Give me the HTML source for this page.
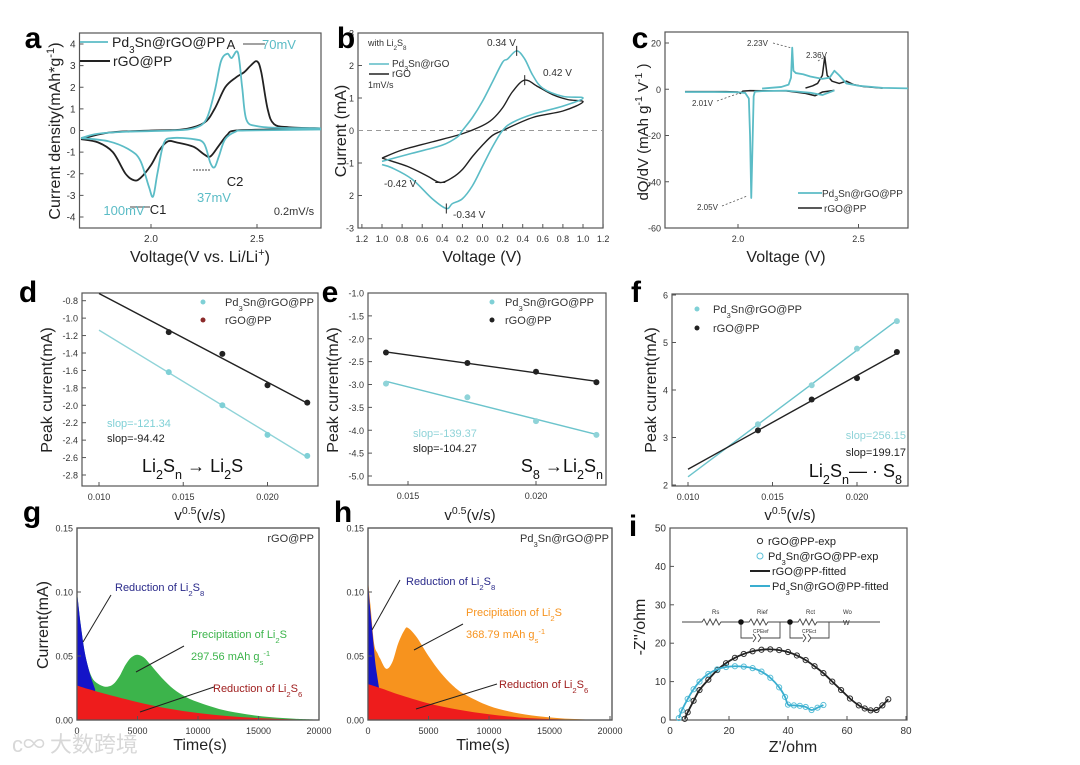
<!DOCTYPE html>
<html><head><meta charset="utf-8">
<style>
html,body{margin:0;padding:0;background:#fff;}
svg{display:block;font-family:"Liberation Sans","Noto Sans CJK SC",sans-serif;}
</style></head>
<body>
<svg id="fig" width="1080" height="765" viewBox="0 0 1080 765" xmlns="http://www.w3.org/2000/svg">
<rect x="0" y="0" width="1080" height="765" fill="#fff"/>
</svg>
<script>
// ---------- DATA ----------
// panel a
const aPdV=[1.67,1.75,1.9,2.1,2.2,2.26,2.3,2.33,2.36,2.38,2.41,2.43,2.45,2.5,2.6,2.8,2.8,2.45,2.4,2.35,2.32,2.30,2.28,2.25,2.2,2.1,2.06,2.03,2.01,1.99,1.95,1.9,1.8,1.67];
const aPdI=[-0.35,-0.15,-0.05,0,0.1,0.5,1.8,3.2,3.55,3.35,3.6,2.0,0.5,0.2,0.12,0.1,0.05,0,-0.05,-0.4,-1.2,-1.7,-1.5,-0.6,-0.4,-0.35,-0.6,-2.0,-3.05,-2.6,-1.4,-0.9,-0.5,-0.35];
const aRgV=[1.67,1.8,2.0,2.15,2.25,2.3,2.35,2.4,2.44,2.47,2.5,2.52,2.55,2.58,2.65,2.8,2.8,2.6,2.4,2.36,2.32,2.28,2.25,2.2,2.12,2.08,2.04,2.0,1.95,1.92,1.88,1.82,1.75,1.67];
const aRgI=[-0.4,-0.1,0,0.05,0.35,1.0,2.0,2.45,2.7,3.0,3.2,2.7,1.0,0.3,0.15,0.1,0.1,0.05,0,-0.2,-0.7,-1.2,-1.1,-0.75,-0.55,-0.5,-0.9,-1.6,-2.2,-2.3,-2.0,-1.0,-0.55,-0.4];
const aYTicks=[-4,-3,-2,-1,0,1,2,3,4];
const aXTicks=[2.0,2.5];
// panel b
const bPdV=[-1,-0.7,-0.4,-0.25,-0.2,-0.1,0,0.1,0.2,0.25,0.34,0.42,0.5,0.6,0.8,1.0,0.8,0.5,0.3,0.2,0.1,0,-0.1,-0.2,-0.3,-0.36,-0.5,-0.7,-0.9,-1.0];
const bPdI=[-0.95,-0.7,-0.45,-0.2,0,0.4,0.9,1.5,2.1,2.2,2.45,2.2,1.7,1.3,1.05,1.0,0.75,0.5,0.25,0,-0.5,-1.1,-1.7,-2.1,-2.25,-2.4,-2.1,-1.5,-1.15,-1.05];
const bRgV=[-1,-0.8,-0.5,-0.2,0,0.1,0.2,0.3,0.42,0.55,0.7,0.85,1.0,0.8,0.5,0.2,0.1,0,-0.1,-0.2,-0.3,-0.42,-0.55,-0.75,-1.0];
const bRgI=[-0.85,-0.6,-0.35,-0.1,0.15,0.35,0.7,1.2,1.55,1.35,1.1,0.95,0.88,0.6,0.4,0,-0.15,-0.45,-0.8,-1.2,-1.45,-1.6,-1.4,-1.1,-0.85];
const bYTicks=[-3,-2,-1,0,1,2,3];
const bYLabels=['-3','2','-1','0','1','2','3'];
const bXTicks=[-1.2,-1.0,-0.8,-0.6,-0.4,-0.2,0,0.2,0.4,0.6,0.8,1.0,1.2];
const bXLabels=['1.2','1.0','0.8','0.6','0.4','0.2','0.0','0.2','0.4','0.6','0.8','1.0','1.2'];
// panel c
const cPdDisV=[1.78,1.9,2.0,2.03,2.045,2.05,2.055,2.06,2.065,2.07,2.1,2.2,2.3,2.35,2.4];
const cPdDisI=[-1.2,-1.2,-1.3,-1.6,-4,-20,-47,-25,-3,-1,-0.8,-0.6,-1.5,-2.5,-0.5];
const cPdChV=[2.1,2.18,2.21,2.22,2.225,2.23,2.24,2.27,2.3,2.35,2.38,2.4,2.42,2.45,2.5,2.6,2.75];
const cPdChI=[0.3,1,2,5,18,8,7,6.5,5.5,4.5,5,8,6,2.5,1.5,0.6,0.3];
const cRgDisV=[1.78,1.95,2.0,2.01,2.02,2.05,2.2,2.28,2.32,2.35,2.4];
const cRgDisI=[-1,-1,-1.2,-1.8,-0.8,-0.6,-0.7,-1.8,-2.8,-1.2,-0.5];
const cRgChV=[2.28,2.31,2.33,2.35,2.36,2.37,2.39,2.42,2.45,2.48,2.52,2.6];
const cRgChI=[0.5,1.5,2.5,6,14,6,3.5,2.5,3.5,2,1.2,0.5];
const cYTicks=[-60,-40,-20,0,20];
const cXTicks=[2.0,2.5];
// panels d,e,f
const sqrtV=[0.01414,0.01732,0.02,0.02236];
const dPd=[-1.62,-2.0,-2.34,-2.58];
const dRg=[-1.16,-1.41,-1.77,-1.97];
const dYTicks=[-2.8,-2.6,-2.4,-2.2,-2.0,-1.8,-1.6,-1.4,-1.2,-1.0,-0.8];
const dXTicks=[0.010,0.015,0.020];
const ePd=[-2.98,-3.28,-3.8,-4.1];
const eRg=[-2.3,-2.53,-2.72,-2.95];
const eYTicks=[-5.0,-4.5,-4.0,-3.5,-3.0,-2.5,-2.0,-1.5,-1.0];
const eXTicks=[0.015,0.020];
const fPd=[3.28,4.1,4.87,5.45];
const fRg=[3.15,3.8,4.25,4.8];
const fYTicks=[2,3,4,5,6];
const fXTicks=[0.010,0.015,0.020];
// panel g
const gTotT=[0,300,600,900,1200,1500,2000,2500,3000,3500,4000,4500,5000,5500,6000,7000,8000,9000,10000,12000,14000,16000,18000,20000];
const gTotI=[0.1,0.075,0.055,0.042,0.034,0.03,0.027,0.026,0.028,0.034,0.043,0.049,0.051,0.049,0.044,0.033,0.024,0.018,0.014,0.008,0.0045,0.0022,0.001,0.0003];
const gBlueT=[0,300,600,900,1200,1500];
const gBlueI=[0.1,0.075,0.055,0.042,0.032,0.024];
const gRedT=[0,1000,2500,5000,7500,10000,12500,15000,17500,20000];
const gRedI=[0.027,0.024,0.020,0.014,0.009,0.0055,0.003,0.0015,0.0006,0];
// panel h
const hTotT=[0,200,500,800,1000,1500,2000,2500,3000,3300,4000,5000,6000,7000,8000,10000,12000,14000,16000,18000,19000];
const hTotI=[0.11,0.09,0.06,0.052,0.048,0.04,0.045,0.06,0.07,0.072,0.065,0.05,0.037,0.027,0.02,0.011,0.006,0.003,0.0013,0.0004,0];
const hBlueT=[0,150,300,450,600,750,900];
const hBlueI=[0.11,0.09,0.075,0.06,0.045,0.035,0.026];
const hRedT=[0,1000,2500,5000,7500,10000,12500,15000,17500,19000];
const hRedI=[0.028,0.025,0.02,0.013,0.008,0.0045,0.002,0.0008,0.0002,0];
const ghYTicks=[0,0.05,0.10,0.15];
const ghYLabels=['0.00','0.05','0.10','0.15'];
const ghXTicks=[0,5000,10000,15000,20000];
// panel i
const iRgX=[5,6,8,10,13,16,19,22,25,28,31,34,37,40,43,46,49,52,55,58,61,64,66,68,70,72,74];
const iRgY=[0.3,2,5,7.8,10.5,13,14.8,16.2,17.2,17.9,18.3,18.4,18.2,17.7,16.8,15.6,14,12.2,10,7.8,5.6,3.8,3,2.5,2.6,3.8,5.4];
const iPdX=[3,4,6,8,10,13,16,19,22,25,28,31,34,37,39,40,42,44,46,48,50,52];
const iPdY=[0.5,2.5,5.5,8,10,12,13.2,13.8,14,13.9,13.5,12.6,11,8.5,6,4,3.8,3.7,3.4,2.6,3.2,3.9];
const iYTicks=[0,10,20,30,40,50];
const iXTicks=[0,20,40,60,80];

// ---------- HELPERS ----------
const NS='http://www.w3.org/2000/svg';
const svg=document.getElementById('fig');
const CY='#5bbcc6', BK='#222';
function mk(tag,name,parent){
  const e=document.createElementNS(NS,tag);
  
  
  (parent||svg).appendChild(e);
  return e;
}
function set(e,o){for(const k in o)e.setAttribute(k,o[k]);return e;}
function lin(d0,d1,r0,r1){return v=>r0+(v-d0)*(r1-r0)/(d1-d0);}
function rich(t,str){
  const re=/([_^])\{([^}]*)\}/g;let last=0,m;
  while((m=re.exec(str))){
    if(m.index>last){const s=document.createElementNS(NS,'tspan');s.textContent=str.slice(last,m.index);t.appendChild(s);}
    const s=document.createElementNS(NS,'tspan');s.textContent=m[2];
    s.setAttribute('font-size','70%');s.setAttribute('baseline-shift',m[1]=='_'?'sub':'super');t.appendChild(s);
    last=re.lastIndex;
  }
  if(last<str.length){const s=document.createElementNS(NS,'tspan');s.textContent=str.slice(last);t.appendChild(s);}
}
function txt(x,y,str,name,o){
  const t=mk('text',name);
  set(t,Object.assign({x:x,y:y,'font-size':10,fill:'#333'},o||{}));
  rich(t,str);return t;
}
function smooth(pts){
  let d='M'+pts[0][0]+','+pts[0][1];
  for(let i=0;i<pts.length-1;i++){
    const p0=pts[Math.max(i-1,0)],p1=pts[i],p2=pts[i+1],p3=pts[Math.min(i+2,pts.length-1)];
    const c1=[p1[0]+(p2[0]-p0[0])/6,p1[1]+(p2[1]-p0[1])/6],c2=[p2[0]-(p3[0]-p1[0])/6,p2[1]-(p3[1]-p1[1])/6];
    d+=' C'+c1.join(',')+' '+c2.join(',')+' '+p2.join(',');
  }
  return d;
}
function series(xs,ys,sx,sy,name,color,w,clip,sm){
  const pts=xs.map((v,i)=>[sx(v),sy(ys[i])]);
  const p=mk('path',name);
  set(p,{d:sm===false?'M'+pts.map(q=>q.join(',')).join(' L'):smooth(pts),fill:'none',stroke:color,'stroke-width':w||1.6,'stroke-linejoin':'round'});
  if(clip)p.setAttribute('clip-path','url(#'+clip+')');
  return p;
}
function area(xs,ys,sx,sy,y0,name,color,clip){
  const pts=xs.map((v,i)=>[sx(v),sy(ys[i])]);
  let d=smooth(pts)+' L'+sx(xs[xs.length-1])+','+y0+' L'+sx(xs[0])+','+y0+' Z';
  const p=mk('path',name);
  set(p,{d:d,fill:color,stroke:'none'});
  if(clip)p.setAttribute('clip-path','url(#'+clip+')');
  return p;
}
const defs=mk('defs','defs');
function frame(id,x0,y0,x1,y1){
  const c=mk('clipPath',id+'-clip',defs);c.setAttribute('id',id);
  const r=mk('rect',id+'-clip-rect',c);set(r,{x:x0,y:y0,width:x1-x0,height:y1-y0});
  const f=mk('rect',id+'-frame');
  set(f,{x:x0,y:y0,width:x1-x0,height:y1-y0,fill:'none',stroke:'#555','stroke-width':1.2});
}
function yAxis(ticks,labels,sy,x0,name,fs){
  ticks.forEach((v,i)=>{
    const l=mk('line',name+'-tick');set(l,{x1:x0,x2:x0+4,y1:sy(v),y2:sy(v),stroke:'#555'});
    txt(x0-4,sy(v)+3.5,labels?labels[i]:String(v),name+'-label',{'text-anchor':'end','font-size':fs||10});
  });
}
function xAxis(ticks,labels,sx,y0,name,fs){
  ticks.forEach((v,i)=>{
    const l=mk('line',name+'-tick');set(l,{x1:sx(v),x2:sx(v),y1:y0,y2:y0-4,stroke:'#555'});
    txt(sx(v),y0+14,labels?labels[i]:String(v),name+'-label',{'text-anchor':'middle','font-size':fs||10});
  });
}
function letter(x,y,s){txt(x,y,s,'panel-label-'+s,{'font-size':30,'font-weight':'bold',fill:'#000','text-anchor':'middle'});}
function ytitle(x,y,s,name,fs){txt(0,0,s,name,{'font-size':fs||16,fill:'#222','text-anchor':'middle',transform:'translate('+x+','+y+') rotate(-90)'});}
function xtitle(x,y,s,name,fs){txt(x,y,s,name,{'font-size':fs||16,fill:'#222','text-anchor':'middle'});}
function seg(x1,y1,x2,y2,name,color,w,dash){
  const l=mk('line',name);set(l,{x1:x1,y1:y1,x2:x2,y2:y2,stroke:color||'#222','stroke-width':w||1});
  if(dash)l.setAttribute('stroke-dasharray',dash);return l;
}
function dot(x,y,r,name,fill,stroke){const c=mk('circle',name);set(c,{cx:x,cy:y,r:r,fill:fill,stroke:stroke||'none'});return c;}
function fitLine(xs,ys,xa,xb,sx,sy,name,color){
  const n=xs.length,mx=xs.reduce((a,b)=>a+b)/n,my=ys.reduce((a,b)=>a+b)/n;
  let num=0,den=0;xs.forEach((x,i)=>{num+=(x-mx)*(ys[i]-my);den+=(x-mx)*(x-mx);});
  const k=num/den,b=my-k*mx;
  seg(sx(xa),sy(k*xa+b),sx(xb),sy(k*xb+b),name,color,1.4);
}

// ---------- PANEL A ----------
(function(){
  const sx=lin(2.0,2.5,151,257), sy=lin(4,-4,44,217);
  frame('ca',79.5,33,321,228);
  yAxis(aYTicks,null,sy,79.5,'a-y');
  xAxis(aXTicks,['2.0','2.5'],sx,228,'a-x');
  series(aRgV,aRgI,sx,sy,'a-rgo-pp-curve',BK,1.8,'ca');
  series(aPdV,aPdI,sx,sy,'a-pd3sn-curve',CY,1.8,'ca');
  letter(33,48,'a');
  seg(80,42,108,42,'a-legend-pd-line',CY,1.8);
  txt(112,47,'Pd_{3}Sn@rGO@PP','a-legend-pd',{'font-size':14,fill:'#222'});
  seg(80,61,110,61,'a-legend-rgo-line',BK,2);
  txt(113,66,'rGO@PP','a-legend-rgo',{'font-size':14,fill:'#222'});
  txt(231,49,'A','a-peak-A',{'font-size':13,fill:'#222','text-anchor':'middle'});
  seg(243,44,265,44,'a-70mv-bar','#444',1);
  txt(262,49,'70mV','a-70mv',{'font-size':13,fill:CY});
  seg(193,170,211,170,'a-37mv-bar','#444',1,'2,1');
  txt(235,186,'C2','a-peak-C2',{'font-size':13,fill:'#222','text-anchor':'middle'});
  txt(214,202,'37mV','a-37mv',{'font-size':13,fill:CY,'text-anchor':'middle'});
  seg(130,207,150,207,'a-100mv-bar','#444',1);
  txt(158,214,'C1','a-peak-C1',{'font-size':13,fill:'#222','text-anchor':'middle'});
  txt(124,215,'100mV','a-100mv',{'font-size':13,fill:CY,'text-anchor':'middle'});
  txt(294,215,'0.2mV/s','a-scan-rate',{'font-size':11,fill:'#333','text-anchor':'middle'});
  ytitle(60,131,'Current density(mAh*g^{-1})','a-y-title',16);
  xtitle(200,262,'Voltage(V vs. Li/Li^{+})','a-x-title',16);
})();

// ---------- PANEL B ----------
(function(){
  const sx=lin(-1,1,382,583), sy=lin(3,-3,33,228);
  frame('cb',358,33,603,228);
  yAxis(bYTicks,bYLabels,sy,358,'b-y',9);
  xAxis(bXTicks,bXLabels,sx,228,'b-x',9);
  seg(358,sy(0),603,sy(0),'b-zero-line','#999',1,'5,4');
  series(bRgV,bRgI,sx,sy,'b-rgo-curve',BK,1.4,'cb');
  series(bPdV,bPdI,sx,sy,'b-pd3sn-curve',CY,1.6,'cb');
  seg(sx(0.34),sy(2.45)-5,sx(0.34),sy(2.45)+5,'b-peak-mark','#222',1);
  seg(sx(0.42),sy(1.55)-5,sx(0.42),sy(1.55)+5,'b-peak-mark','#222',1);
  seg(sx(-0.42)-5,sy(-1.6),sx(-0.42)+5,sy(-1.6),'b-peak-mark','#222',1);
  seg(sx(-0.36),sy(-2.4)-5,sx(-0.36),sy(-2.4)+5,'b-peak-mark','#222',1);
  letter(346,48,'b');
  txt(368,46,'with Li_{2}S_{8}','b-note',{'font-size':9});
  seg(369,64,389,64,'b-legend-pd-line',CY,1.5);
  txt(392,67,'Pd_{3}Sn@rGO','b-legend-pd',{'font-size':10});
  seg(369,74,389,74,'b-legend-rgo-line',BK,1.5);
  txt(392,77,'rGO','b-legend-rgo',{'font-size':10});
  txt(368,88,'1mV/s','b-scan-rate',{'font-size':9});
  txt(487,46,'0.34 V','b-034-label',{'font-size':10});
  txt(543,76,'0.42 V','b-042-label',{'font-size':10});
  txt(384,187,'-0.42 V','b-m042-label',{'font-size':10});
  txt(453,218,'-0.34 V','b-m034-label',{'font-size':10});
  ytitle(346,131,'Current (mA)','b-y-title',16);
  xtitle(482,262,'Voltage (V)','b-x-title',16);
})();

// ---------- PANEL C ----------
(function(){
  const sx=lin(2.0,2.5,738,858.5), sy=lin(20,-60,43,228);
  frame('cc',665,32,908,228);
  yAxis(cYTicks,null,sy,665,'c-y',9);
  xAxis(cXTicks,['2.0','2.5'],sx,228,'c-x',9);
  series(cRgDisV,cRgDisI,sx,sy,'c-rgo-discharge',BK,1.5,'cc',false);
  series(cRgChV,cRgChI,sx,sy,'c-rgo-charge',BK,1.5,'cc',false);
  series(cPdDisV,cPdDisI,sx,sy,'c-pd3sn-discharge',CY,1.8,'cc',false);
  series(cPdChV,cPdChI,sx,sy,'c-pd3sn-charge',CY,1.8,'cc',false);
  seg(908,sy(0),908,sy(0),'c-dummy','#fff',0);
  letter(640,48,'c');
  txt(747,46,'2.23V','c-223-label',{'font-size':8});
  seg(773,43,sx(2.225)-2,sy(18),'c-223-arrow','#555',0.8,'2,2');
  txt(806,58,'2.36V','c-236-label',{'font-size':8});
  seg(818,61,sx(2.36),sy(14),'c-236-arrow','#555',0.8,'2,2');
  txt(692,106,'2.01V','c-201-label',{'font-size':8});
  seg(717,101,sx(2.01),sy(-1.5),'c-201-arrow','#555',0.8,'2,2');
  txt(697,210,'2.05V','c-205-label',{'font-size':8});
  seg(722,206,sx(2.05)-2,sy(-46),'c-205-arrow','#555',0.8,'2,2');
  seg(798,193,822,193,'c-legend-pd-line',CY,1.8);
  txt(822,197,'Pd_{3}Sn@rGO@PP','c-legend-pd',{'font-size':10});
  seg(798,208,822,208,'c-legend-rgo-line',BK,1.5);
  txt(824,212,'rGO@PP','c-legend-rgo',{'font-size':10});
  ytitle(648,132,'dQ/dV (mAh g^{-1} V^{-1} )','c-y-title',15);
  xtitle(786,262,'Voltage (V)','c-x-title',16);
})();

// ---------- PANEL D ----------
(function(){
  const sx=lin(0.010,0.020,99,267.5), sy=lin(-0.8,-2.8,300.7,475);
  frame('cd',82,293,318,486);
  yAxis(dYTicks,dYTicks.map(v=>v.toFixed(1)),sy,82,'d-y',9);
  xAxis(dXTicks,dXTicks.map(v=>v.toFixed(3)),sx,486,'d-x',9);
  fitLine(sqrtV,dRg,0.010,0.0224,sx,sy,'d-rgo-fit',BK);
  fitLine(sqrtV,dPd,0.010,0.0224,sx,sy,'d-pd3sn-fit','#8fd3d8');
  sqrtV.forEach((v,i)=>{dot(sx(v),sy(dRg[i]),3,'d-rgo-point','#222');});
  sqrtV.forEach((v,i)=>{dot(sx(v),sy(dPd[i]),3,'d-pd3sn-point','#7fd0d6');});
  letter(28,302,'d');
  dot(203,302,2.5,'d-legend-pd-marker','#7fd0d6');
  txt(225,306,'Pd_{3}Sn@rGO@PP','d-legend-pd',{'font-size':11});
  dot(203,320,2.5,'d-legend-rgo-marker','#8b2a2a');
  txt(225,324,'rGO@PP','d-legend-rgo',{'font-size':11});
  txt(107,427,'slop=-121.34','d-slope-pd',{'font-size':11,fill:'#7fd0d6'});
  txt(107,442,'slop=-94.42','d-slope-rgo',{'font-size':11,fill:'#222'});
  txt(142,472,'Li_{2}S_{n}   → Li_{2}S','d-reaction',{'font-size':18,fill:'#111'});
  ytitle(52,390,'Peak current(mA)','d-y-title',16);
  xtitle(200,520,'v^{0.5}(v/s)','d-x-title',15);
})();

// ---------- PANEL E ----------
(function(){
  const sx=lin(0.015,0.020,408,536), sy=lin(-1.0,-5.0,293,476);
  frame('ce',368,293,606,485);
  yAxis(eYTicks,eYTicks.map(v=>v.toFixed(1)),sy,368,'e-y',9);
  xAxis(eXTicks,eXTicks.map(v=>v.toFixed(3)),sx,485,'e-x',9);
  fitLine(sqrtV,eRg,0.01414,0.02236,sx,sy,'e-rgo-fit',BK);
  fitLine(sqrtV,ePd,0.01414,0.02236,sx,sy,'e-pd3sn-fit','#6cc4cc');
  sqrtV.forEach((v,i)=>{dot(sx(v),sy(eRg[i]),3,'e-rgo-point','#222');});
  sqrtV.forEach((v,i)=>{dot(sx(v),sy(ePd[i]),3,'e-pd3sn-point','#8fd3d8');});
  letter(330,302,'e');
  dot(492,302,2.5,'e-legend-pd-marker','#7fd0d6');
  txt(505,306,'Pd_{3}Sn@rGO@PP','e-legend-pd',{'font-size':11});
  dot(492,320,2.5,'e-legend-rgo-marker','#222');
  txt(505,324,'rGO@PP','e-legend-rgo',{'font-size':11});
  txt(413,437,'slop=-139.37','e-slope-pd',{'font-size':11,fill:'#8fd3d8'});
  txt(413,452,'slop=-104.27','e-slope-rgo',{'font-size':11,fill:'#222'});
  txt(603,472,'S_{8}    →Li_{2}S_{n}','e-reaction',{'font-size':18,fill:'#111','text-anchor':'end'});
  ytitle(338,390,'Peak current(mA)','e-y-title',16);
  xtitle(470,520,'v^{0.5}(v/s)','e-x-title',15);
})();

// ---------- PANEL F ----------
(function(){
  const sx=lin(0.010,0.020,688,857), sy=lin(6,2,295,485);
  frame('cf',672,294,908,486);
  yAxis(fYTicks,null,sy,672,'f-y',9);
  xAxis(fXTicks,fXTicks.map(v=>v.toFixed(3)),sx,486,'f-x',9);
  fitLine(sqrtV,fPd,0.010,0.0224,sx,sy,'f-pd3sn-fit','#6cc4cc');
  fitLine(sqrtV,fRg,0.010,0.0224,sx,sy,'f-rgo-fit',BK);
  sqrtV.forEach((v,i)=>{dot(sx(v),sy(fPd[i]),3,'f-pd3sn-point','#8fd3d8');});
  sqrtV.forEach((v,i)=>{dot(sx(v),sy(fRg[i]),3,'f-rgo-point','#222');});
  letter(636,302,'f');
  dot(697,309,2.5,'f-legend-pd-marker','#7fd0d6');
  txt(713,313,'Pd_{3}Sn@rGO@PP','f-legend-pd',{'font-size':11});
  dot(697,328,2.5,'f-legend-rgo-marker','#222');
  txt(713,332,'rGO@PP','f-legend-rgo',{'font-size':11});
  txt(906,439,'slop=256.15','f-slope-pd',{'font-size':11,fill:'#8fd3d8','text-anchor':'end'});
  txt(906,456,'slop=199.17','f-slope-rgo',{'font-size':11,fill:'#222','text-anchor':'end'});
  txt(902,477,'Li_{2}S_{n}—   · S_{8}','f-reaction',{'font-size':18,fill:'#111','text-anchor':'end'});
  ytitle(656,390,'Peak current(mA)','f-y-title',16);
  xtitle(790,520,'v^{0.5}(v/s)','f-x-title',15);
})();

// ---------- PANEL G ----------
(function(){
  const sx=lin(0,20000,77,319), sy=lin(0,0.15,720,528);
  frame('cg',77,528,319,720);
  area(gTotT,gTotI,sx,sy,720,'g-li2s-precipitation-area','#3cb44b','cg');
  area(gBlueT,gBlueI,sx,sy,720,'g-li2s8-reduction-area','#1414c8','cg');
  area(gRedT,gRedI,sx,sy,720,'g-li2s6-reduction-area','#ee1c1c','cg');
  const f=mk('rect','g-frame-top');set(f,{x:77,y:528,width:242,height:192,fill:'none',stroke:'#555','stroke-width':1.2});
  yAxis(ghYTicks,ghYLabels,sy,77,'g-y',9);
  xAxis(ghXTicks,null,sx,720,'g-x',9);
  letter(32,52+470,'g');
  txt(314,542,'rGO@PP','g-sample-label',{'font-size':11,'text-anchor':'end'});
  txt(115,591,'Reduction of Li_{2}S_{8}','g-li2s8-label',{'font-size':11,fill:'#2a2a8a'});
  seg(111,595,83,642,'g-li2s8-arrow','#222',1);
  txt(191,638,'Precipitation of Li_{2}S','g-precip-label',{'font-size':11,fill:'#3cb44b'});
  txt(191,660,'297.56 mAh g_{s}^{-1}','g-capacity-label',{'font-size':11,fill:'#3cb44b'});
  seg(184,646,136,672,'g-precip-arrow','#222',1);
  txt(213,692,'Reduction of Li_{2}S_{6}','g-li2s6-label',{'font-size':11,fill:'#a02020'});
  seg(214,687,140,712,'g-li2s6-arrow','#222',1);
  ytitle(48,625,'Current(mA)','g-y-title',16);
  xtitle(200,750,'Time(s)','g-x-title',16);
  txt(12,752,'ᴄ∞ 大数跨境','watermark',{'font-size':22,fill:'#d8d8d8','font-family':'"Noto Sans CJK SC",sans-serif'});
})();

// ---------- PANEL H ----------
(function(){
  const sx=lin(0,20000,368,610), sy=lin(0,0.15,720,528);
  frame('ch',368,528,612,720);
  area(hTotT,hTotI,sx,sy,720,'h-li2s-precipitation-area','#f7931e','ch');
  area(hBlueT,hBlueI,sx,sy,720,'h-li2s8-reduction-area','#1414c8','ch');
  area(hRedT,hRedI,sx,sy,720,'h-li2s6-reduction-area','#ee1c1c','ch');
  const f=mk('rect','h-frame-top');set(f,{x:368,y:528,width:244,height:192,fill:'none',stroke:'#555','stroke-width':1.2});
  yAxis(ghYTicks,ghYLabels,sy,368,'h-y',9);
  xAxis(ghXTicks,null,sx,720,'h-x',9);
  letter(343,522,'h');
  txt(609,542,'Pd_{3}Sn@rGO@PP','h-sample-label',{'font-size':11,'text-anchor':'end'});
  txt(406,585,'Reduction of Li_{2}S_{8}','h-li2s8-label',{'font-size':11,fill:'#2a2a8a'});
  seg(400,580,372,630,'h-li2s8-arrow','#222',1);
  txt(466,616,'Precipitation of Li_{2}S','h-precip-label',{'font-size':11,fill:'#f7931e'});
  txt(466,638,'368.79 mAh g_{s}^{-1}','h-capacity-label',{'font-size':11,fill:'#f7931e'});
  seg(463,624,414,650,'h-precip-arrow','#222',1);
  txt(499,688,'Reduction of Li_{2}S_{6}','h-li2s6-label',{'font-size':11,fill:'#a02020'});
  seg(497,684,416,709,'h-li2s6-arrow','#222',1);
  xtitle(483,750,'Time(s)','h-x-title',16);
})();

// ---------- PANEL I ----------
(function(){
  const sx=lin(0,80,670,906), sy=lin(0,50,720,528);
  frame('ci',670,528,907,720);
  yAxis(iYTicks,null,sy,670,'i-y',10);
  xAxis(iXTicks,null,sx,720,'i-x',10);
  iRgX.forEach((v,i)=>{dot(sx(v),sy(iRgY[i]),2.6,'i-rgo-exp-point','none','#333');});
  iPdX.forEach((v,i)=>{dot(sx(v),sy(iPdY[i]),2.6,'i-pd3sn-exp-point','none','#5cc0d8');});
  series(iRgX,iRgY,sx,sy,'i-rgo-fitted',BK,1.8,'ci');
  series(iPdX,iPdY,sx,sy,'i-pd3sn-fitted','#3aaed0',1.8,'ci');
  letter(633,536,'i');
  dot(760,541,2.6,'i-legend-rgo-exp-marker','none','#333');
  txt(768,545,'rGO@PP-exp','i-legend-rgo-exp',{'font-size':11,fill:'#222'});
  dot(760,556,3,'i-legend-pd-exp-marker','none','#5cc0d8');
  txt(768,560,'Pd_{3}Sn@rGO@PP-exp','i-legend-pd-exp',{'font-size':11,fill:'#222'});
  seg(750,571,770,571,'i-legend-rgo-fit-line',BK,2);
  txt(772,575,'rGO@PP-fitted','i-legend-rgo-fit',{'font-size':11,fill:'#222'});
  seg(750,586,770,586,'i-legend-pd-fit-line','#3aaed0',2);
  txt(772,590,'Pd_{3}Sn@rGO@PP-fitted','i-legend-pd-fit',{'font-size':11,fill:'#222'});
  // equivalent circuit
  const cy=622;
  const c=mk('path','i-circuit-wire');
  set(c,{d:'M682,'+cy+' L702,'+cy+' l2,-3 l3,6 l3,-6 l3,6 l3,-6 l3,6 l2,-3 L741,'+cy+
    ' M741,'+cy+' L749,'+cy+' l2,-3 l3,6 l3,-6 l3,6 l3,-6 l3,6 l2,-3 L780,'+cy+
    ' M741,'+cy+' L741,638 L753,638 M761,638 L780,638 L780,'+cy+
    ' M780,'+cy+' L790,'+cy+' L798,'+cy+' l2,-3 l3,6 l3,-6 l3,6 l3,-6 l3,6 l2,-3 L829,'+cy+
    ' M790,'+cy+' L790,638 L803,638 M811,638 L829,638 L829,'+cy+' M829,'+cy+' L880,'+cy,
    fill:'none',stroke:'#444','stroke-width':0.9});
  seg(753,634,756,638,'i-cpe1a','#444',0.9);seg(756,638,753,642,'i-cpe1b','#444',0.9);
  seg(758,634,761,638,'i-cpe1c','#444',0.9);seg(761,638,758,642,'i-cpe1d','#444',0.9);
  seg(803,634,806,638,'i-cpe2a','#444',0.9);seg(806,638,803,642,'i-cpe2b','#444',0.9);
  seg(808,634,811,638,'i-cpe2c','#444',0.9);seg(811,638,808,642,'i-cpe2d','#444',0.9);
  dot(741,cy,2.8,'i-circuit-node','#111');
  dot(790,cy,2.8,'i-circuit-node','#111');
  txt(712,614,'Rs','i-circuit-rs',{'font-size':6});
  txt(757,614,'Rief','i-circuit-rief',{'font-size':6});
  txt(753,633,'CPEief','i-circuit-cpe1',{'font-size':5});
  txt(806,614,'Rct','i-circuit-rct',{'font-size':6});
  txt(802,633,'CPEct','i-circuit-cpe2',{'font-size':5});
  txt(843,614,'Wo','i-circuit-wo',{'font-size':6});
  txt(843,625,'W','i-circuit-w',{'font-size':7});
  ytitle(645,627,'-Z\'\'/ohm','i-y-title',16);
  xtitle(793,752,'Z\'/ohm','i-x-title',16);
})();
</script>
</body></html>
